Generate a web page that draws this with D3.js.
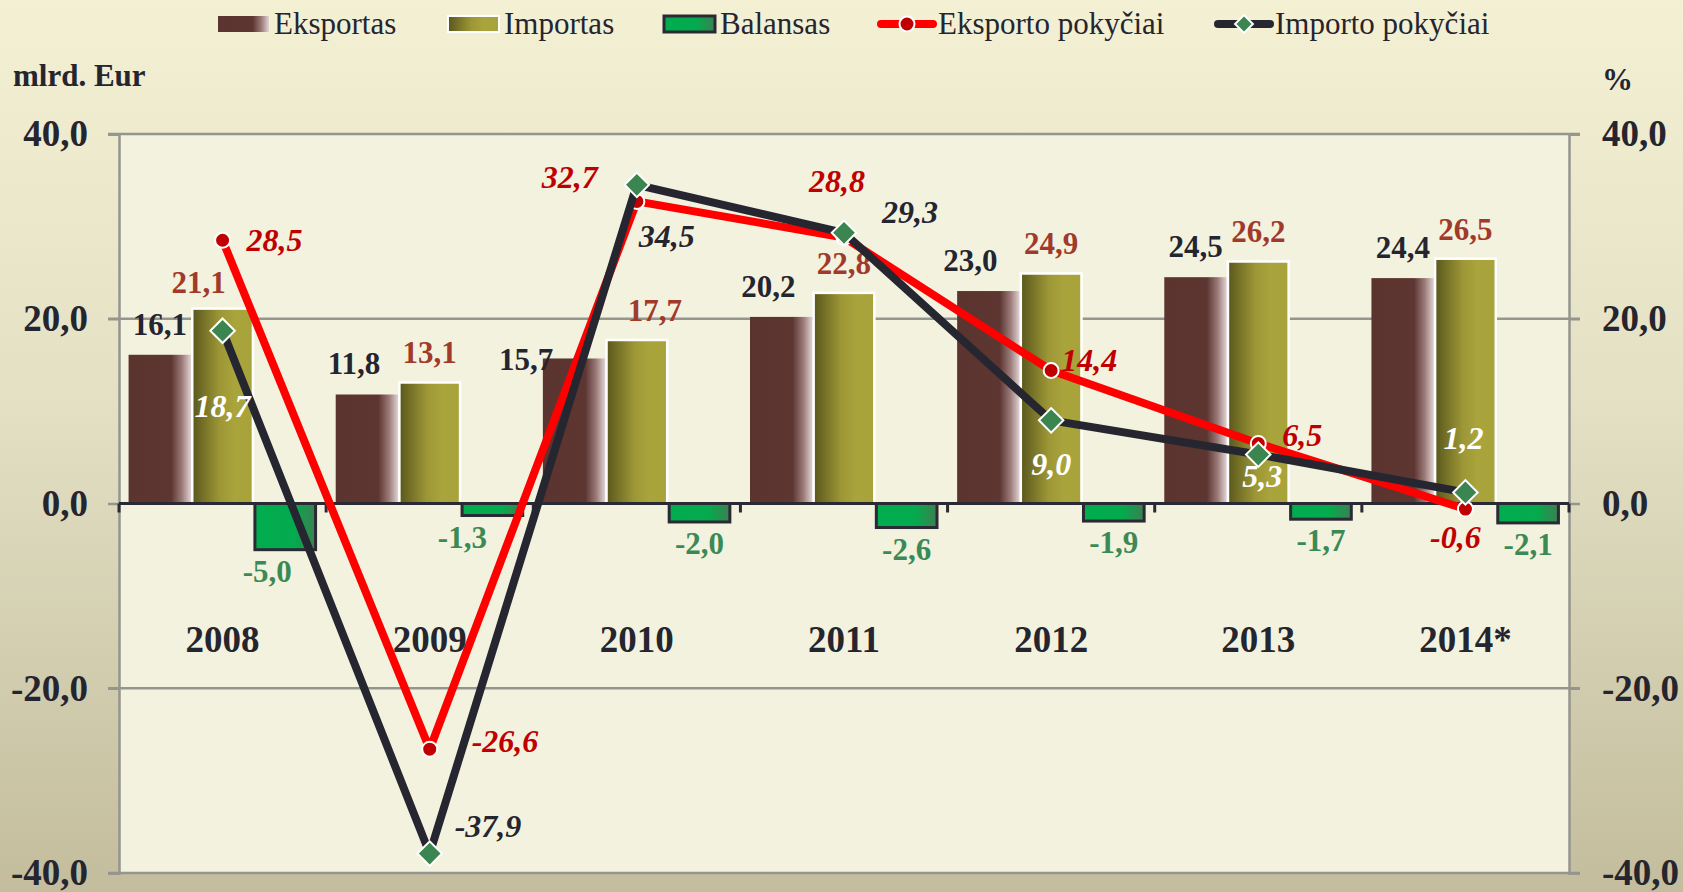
<!DOCTYPE html>
<html>
<head>
<meta charset="utf-8">
<script src="https://cdn.jsdelivr.net/npm/d3@7"></script>
<style>
  html, body { margin: 0; padding: 0; }
  body { width: 1683px; height: 892px; overflow: hidden; }
  svg { display: block; font-family: "Liberation Serif", "Times New Roman", serif; }
</style>
</head>
<body>
<div id="chart"></div>
<script>
// Data
const years = ["2008", "2009", "2010", "2011", "2012", "2013", "2014*"];
const exportValues = [16.1, 11.8, 15.7, 20.2, 23.0, 24.5, 24.4];
const importValues = [21.1, 13.1, 17.7, 22.8, 24.9, 26.2, 26.5];
const balanceValues = [-5.0, -1.3, -2.0, -2.6, -1.9, -1.7, -2.1];
const exportChange = [28.5, -26.6, 32.7, 28.8, 14.4, 6.5, -0.6];
const importChange = [18.7, -37.9, 34.5, 29.3, 9.0, 5.3, 1.2];
const axisTicks = [-40, -20, 0, 20, 40];

// Label placement (offsets from the point, in px)
const exportLabelPos = [
    { dx: 24, dy: 11, anchor: "start" },
    { dx: 42, dy: 3, anchor: "start" },
    { dx: -39, dy: -13, anchor: "end" },
    { dx: -7, dy: -45, anchor: "middle" },
    { dx: 10, dy: 1, anchor: "start" },
    { dx: 24, dy: 3, anchor: "start" },
    { dx: -10, dy: 39, anchor: "middle" }
];
const importLabelPos = [
    { dx: 0, dy: 86, anchor: "middle", color: "#ffffff" },
    { dx: 25, dy: -17, anchor: "start" },
    { dx: 2, dy: 62, anchor: "start" },
    { dx: 38, dy: -10, anchor: "start" },
    { dx: 0, dy: 55, anchor: "middle", color: "#ffffff" },
    { dx: 4, dy: 32, anchor: "middle", color: "#ffffff" },
    { dx: -2, dy: -43, anchor: "middle", color: "#ffffff" }
];
// manual nudges for bar labels that were moved off their bar
const expBarNudge = [[0, 0], [-13, 0], [-48, 32], [-13, 0], [-18, 0], [0, 0], [0, 0]];
const impBarNudge = [[-24, 3], [0, 0], [18, 0], [0, 0], [0, 0], [0, 0], [0, 0]];
const balanceLabelNudge = [-18, -30, 0, 0, 0, 0, 0];

const fmt = v => v.toFixed(1).replace(".", ",");

const W = 1683, H = 892;
const plot = { left: 119, right: 1569, top: 134, bottom: 873 };

const svg = d3.select("#chart").append("svg")
    .attr("width", W)
    .attr("height", H);

const defs = svg.append("defs");

// Page background: vertical gradient
const bgGrad = defs.append("linearGradient").attr("id", "bg")
    .attr("x1", 0).attr("y1", 0).attr("x2", 0).attr("y2", 1);
bgGrad.append("stop").attr("offset", "0%").attr("stop-color", "#f3f0d4");
bgGrad.append("stop").attr("offset", "45%").attr("stop-color", "#e4e0c4");
bgGrad.append("stop").attr("offset", "100%").attr("stop-color", "#c3bd9d");

// Bar gradients (horizontal)
function hGrad(id, stops) {
    const g = defs.append("linearGradient").attr("id", id)
        .attr("x1", 0).attr("y1", 0).attr("x2", 1).attr("y2", 0);
    stops.forEach(s => g.append("stop").attr("offset", s[0]).attr("stop-color", s[1]));
}
hGrad("gExp", [["0%", "#5b3430"], ["68%", "#5d3632"], ["85%", "#9a7a78"], ["100%", "#e3d6d6"]]);
hGrad("gImp", [["0%", "#5a571c"], ["45%", "#9c9636"], ["70%", "#aaa43c"], ["100%", "#a8a23a"]]);
hGrad("gBal", [["0%", "#00ad4e"], ["65%", "#05aa4e"], ["100%", "#3d7f52"]]);

svg.append("rect").attr("width", W).attr("height", H).attr("fill", "url(#bg)");

// Scales
const x0 = d3.scaleBand()
    .domain(years)
    .range([plot.left, plot.right])
    .paddingInner(0.0924)
    .paddingOuter(0.0462);

const seriesKeys = ["exp", "imp", "bal"];
const x1 = d3.scaleBand()
    .domain(seriesKeys)
    .range([0, x0.bandwidth()]);

const y = d3.scaleLinear()
    .domain([-40, 40])
    .range([plot.bottom, plot.top]);

const yRight = d3.scaleLinear()
    .domain([-40, 40])
    .range([plot.bottom, plot.top]);

const cx = d => x0(d) + x0.bandwidth() / 2;

// Plot area
svg.append("rect")
    .attr("x", plot.left).attr("y", plot.top)
    .attr("width", plot.right - plot.left).attr("height", plot.bottom - plot.top)
    .attr("fill", "#f3f2de");

// Gridlines
svg.append("g")
    .selectAll("line")
    .data(axisTicks.filter(t => t !== 0))
    .join("line")
    .attr("x1", plot.left - 11).attr("x2", plot.right + 11)
    .attr("y1", d => y(d)).attr("y2", d => y(d))
    .attr("stroke", "#959590")
    .attr("stroke-width", 2.5);

// Left / right axes
const leftAxis = svg.append("g")
    .attr("transform", `translate(${plot.left},0)`)
    .call(d3.axisLeft(y).tickValues(axisTicks).tickFormat(fmt).tickSize(11).tickPadding(20));
const rightAxis = svg.append("g")
    .attr("transform", `translate(${plot.right},0)`)
    .call(d3.axisRight(yRight).tickValues(axisTicks).tickFormat(fmt).tickSize(11).tickPadding(22));

[leftAxis, rightAxis].forEach(a => {
    a.select(".domain").attr("stroke", "#959590").attr("stroke-width", 2.5);
    a.selectAll(".tick line").attr("stroke", "#959590").attr("stroke-width", 2.5);
    a.selectAll(".tick text")
        .attr("fill", "#25252f")
        .attr("font-size", 37)
        .attr("font-weight", "bold")
        .attr("font-family", "Liberation Serif, serif");
});

// Bars
const rows = years.map((yr, i) => ({
    year: yr,
    values: [
        { key: "exp", v: exportValues[i] },
        { key: "imp", v: importValues[i] },
        { key: "bal", v: balanceValues[i] }
    ]
}));

const fills = { exp: "url(#gExp)", imp: "url(#gImp)", bal: "url(#gBal)" };
const strokes = { exp: "none", imp: "#ffffff", bal: "#2a2a34" };

const groups = svg.append("g")
    .selectAll("g")
    .data(rows)
    .join("g")
    .attr("transform", d => `translate(${x0(d.year)},0)`);

groups.selectAll("rect")
    .data(d => d.values)
    .join("rect")
    .attr("x", d => x1(d.key) + (d.key === "exp" ? 0 : 1))
    .attr("width", d => x1.bandwidth() - (d.key === "exp" ? 0 : 2))
    .attr("y", d => y(Math.max(0, d.v)))
    .attr("height", d => Math.abs(y(d.v) - y(0)))
    .attr("fill", d => fills[d.key])
    .attr("stroke", d => strokes[d.key])
    .attr("stroke-width", d => d.key === "bal" ? 3 : 2.5);

// Zero line + category ticks
svg.append("line")
    .attr("x1", plot.left).attr("x2", plot.right)
    .attr("y1", y(0)).attr("y2", y(0))
    .attr("stroke", "#2a2a34").attr("stroke-width", 3);

const step = x0.step();
svg.append("g")
    .selectAll("line")
    .data(years.concat(["end"]))
    .join("line")
    .attr("x1", (d, i) => plot.left + i * step)
    .attr("x2", (d, i) => plot.left + i * step)
    .attr("y1", y(0)).attr("y2", y(0) + 9)
    .attr("stroke", "#2a2a34").attr("stroke-width", 3);

// Bar value labels
const barLabelFont = 31;
groups.append("text")
    .attr("x", (d, i) => x1("exp") + x1.bandwidth() / 2 + expBarNudge[i][0])
    .attr("y", (d, i) => y(exportValues[i]) - 20 + expBarNudge[i][1])
    .attr("text-anchor", "middle")
    .attr("font-size", barLabelFont).attr("font-weight", "bold")
    .attr("fill", "#25252f")
    .text((d, i) => fmt(exportValues[i]));

groups.append("text")
    .attr("x", (d, i) => x1("imp") + x1.bandwidth() / 2 + impBarNudge[i][0])
    .attr("y", (d, i) => y(importValues[i]) - 19 + impBarNudge[i][1])
    .attr("text-anchor", "middle")
    .attr("font-size", barLabelFont).attr("font-weight", "bold")
    .attr("fill", "#a03a2b")
    .text((d, i) => fmt(importValues[i]));

groups.append("text")
    .attr("x", (d, i) => x1("bal") + x1.bandwidth() / 2 + balanceLabelNudge[i])
    .attr("y", (d, i) => y(balanceValues[i]) + 32)
    .attr("text-anchor", "middle")
    .attr("font-size", barLabelFont).attr("font-weight", "bold")
    .attr("fill", "#3b8a55")
    .text((d, i) => fmt(balanceValues[i]));

// Lines
const line = d3.line()
    .x(d => cx(d.year))
    .y(d => yRight(d.v));

const expPts = years.map((yr, i) => ({ year: yr, v: exportChange[i] }));
const impPts = years.map((yr, i) => ({ year: yr, v: importChange[i] }));

svg.append("path")
    .datum(expPts)
    .attr("d", line)
    .attr("fill", "none")
    .attr("stroke", "#ff0000")
    .attr("stroke-width", 8)
    .attr("stroke-linejoin", "round");

svg.append("g")
    .selectAll("circle")
    .data(expPts)
    .join("circle")
    .attr("cx", d => cx(d.year))
    .attr("cy", d => yRight(d.v))
    .attr("r", 7.5)
    .attr("fill", "#c00000")
    .attr("stroke", "#ffffff")
    .attr("stroke-width", 2);

svg.append("path")
    .datum(impPts)
    .attr("d", line)
    .attr("fill", "none")
    .attr("stroke", "#262631")
    .attr("stroke-width", 8)
    .attr("stroke-linejoin", "round");

const diamond = d3.symbol().type(d3.symbolSquare).size(300);
svg.append("g")
    .selectAll("path")
    .data(impPts)
    .join("path")
    .attr("d", diamond)
    .attr("transform", d => `translate(${cx(d.year)},${yRight(d.v)}) rotate(45)`)
    .attr("fill", "#3b8550")
    .attr("stroke", "#ffffff")
    .attr("stroke-width", 2);

// Line labels
svg.append("g")
    .selectAll("text")
    .data(expPts)
    .join("text")
    .attr("x", (d, i) => cx(d.year) + exportLabelPos[i].dx)
    .attr("y", (d, i) => yRight(d.v) + exportLabelPos[i].dy)
    .attr("text-anchor", (d, i) => exportLabelPos[i].anchor)
    .attr("font-size", 32).attr("font-weight", "bold").attr("font-style", "italic")
    .attr("fill", "#c00000")
    .text(d => fmt(d.v));

svg.append("g")
    .selectAll("text")
    .data(impPts)
    .join("text")
    .attr("x", (d, i) => cx(d.year) + importLabelPos[i].dx)
    .attr("y", (d, i) => yRight(d.v) + importLabelPos[i].dy)
    .attr("text-anchor", (d, i) => importLabelPos[i].anchor)
    .attr("font-size", 32).attr("font-weight", "bold").attr("font-style", "italic")
    .attr("fill", (d, i) => importLabelPos[i].color || "#25252f")
    .text(d => fmt(d.v));

// Category labels
svg.append("g")
    .selectAll("text")
    .data(years)
    .join("text")
    .attr("x", d => cx(d))
    .attr("y", 652)
    .attr("text-anchor", "middle")
    .attr("font-size", 37).attr("font-weight", "bold")
    .attr("fill", "#25252f")
    .text(d => d);

// Axis units
svg.append("text")
    .attr("x", 13).attr("y", 86)
    .attr("font-size", 31).attr("font-weight", "bold").attr("fill", "#25252f")
    .text("mlrd. Eur");
svg.append("text")
    .attr("x", 1602).attr("y", 90)
    .attr("font-size", 31).attr("font-weight", "bold").attr("fill", "#25252f")
    .text("%");

// Legend
const legendItems = [
    { name: "Eksportas", type: "bar", key: "exp", x: 217 },
    { name: "Importas", type: "bar", key: "imp", x: 447 },
    { name: "Balansas", type: "bar", key: "bal", x: 663 },
    { name: "Eksporto pokyčiai", type: "exp", x: 877 },
    { name: "Importo pokyčiai", type: "imp", x: 1214 }
];

const legend = svg.append("g");
legendItems.forEach(it => {
    const g = legend.append("g").attr("transform", `translate(${it.x},0)`);
    if (it.type === "bar") {
        g.append("rect")
            .attr("x", 1).attr("y", 16).attr("width", 51).attr("height", 16)
            .attr("fill", fills[it.key])
            .attr("stroke", it.key === "exp" ? "none" : strokes[it.key])
            .attr("stroke-width", it.key === "bal" ? 3 : 2);
    } else {
        g.append("line")
            .attr("x1", 4).attr("x2", 56).attr("y1", 24).attr("y2", 24)
            .attr("stroke", it.type === "exp" ? "#ff0000" : "#262631")
            .attr("stroke-width", 8).attr("stroke-linecap", "round");
        if (it.type === "exp") {
            g.append("circle").attr("cx", 30).attr("cy", 24).attr("r", 7.5)
                .attr("fill", "#c00000").attr("stroke", "#ffffff").attr("stroke-width", 2);
        } else {
            g.append("path").attr("d", d3.symbol().type(d3.symbolSquare).size(160))
                .attr("transform", "translate(30,24) rotate(45)")
                .attr("fill", "#3b8550").attr("stroke", "#ffffff").attr("stroke-width", 2);
        }
    }
    g.append("text")
        .attr("x", it.type === "bar" ? 57 : 61).attr("y", 34)
        .attr("font-size", 31).attr("fill", "#25252f")
        .text(it.name);
});
</script>
</body>
</html>
